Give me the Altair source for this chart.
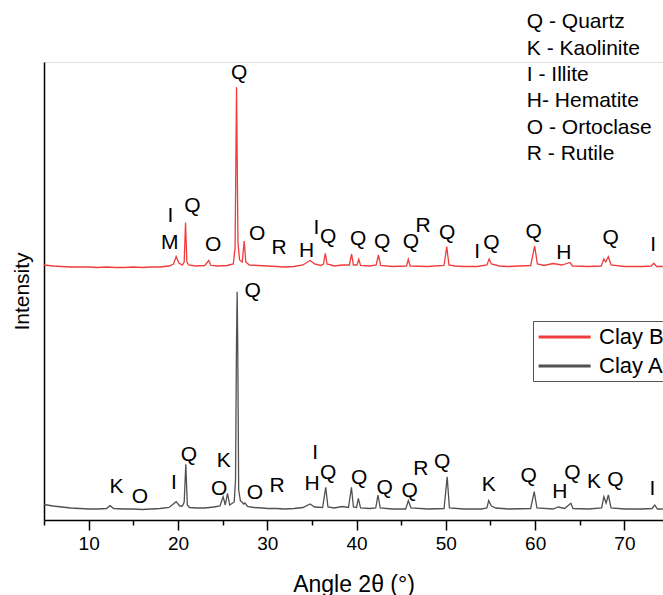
import altair as alt
import pandas as pd

# ---------------- data ----------------
# Clay B (red, upper pattern): angle 2theta (deg) and intensity (a.u.)
clay_b_angle = [5.0, 6.0, 7.0, 8.0, 9.0, 10.0, 11.0, 12.0, 13.0, 14.0, 15.0, 16.0, 17.0, 18.0,
                19.0, 19.5, 19.8, 20.1, 20.5, 20.7, 20.85, 21.0, 21.2, 22.0, 23.0, 23.45, 23.7,
                24.5, 25.5, 26.2, 26.4, 26.5, 26.56, 26.62, 26.72, 26.9, 27.2, 27.42, 27.6, 28.0,
                29.0, 30.0, 31.0, 32.0, 33.0, 34.0, 34.8, 35.3, 36.0, 36.3, 36.5, 36.7, 37.5,
                38.4, 39.2, 39.45, 39.65, 40.05, 40.25, 40.45, 41.5, 42.2, 42.45, 42.7, 44.0,
                45.6, 45.8, 46.0, 48.0, 49.8, 50.1, 50.35, 51.0, 52.0, 53.5, 54.6, 54.85, 55.1,
                56.0, 57.0, 59.5, 59.95, 60.25, 61.0, 62.0, 63.0, 63.9, 64.2, 66.0, 67.4, 67.7,
                67.9, 68.2, 68.5, 70.0, 72.0, 73.0, 73.3, 73.6, 74.3]
clay_b_int = [255.0, 254.0, 253.5, 253.0, 253.0, 253.0, 252.5, 253.0, 252.5, 252.5, 253.0, 252.5,
              253.0, 253.0, 254.0, 256.0, 263.5, 257.0, 255.0, 258.0, 297.5, 258.0, 255.0, 254.0,
              254.5, 259.5, 254.5, 254.0, 254.5, 256.0, 272.0, 370.0, 432.7, 375.0, 278.0, 260.0,
              258.0, 279.0, 258.0, 255.0, 254.5, 254.0, 253.5, 253.0, 253.5, 255.0, 259.5, 256.0,
              254.5, 256.0, 266.7, 256.0, 254.0, 255.0, 255.0, 266.0, 255.0, 255.0, 260.7, 254.5,
              254.0, 255.0, 265.0, 254.5, 253.5, 254.0, 260.7, 254.0, 253.5, 254.5, 273.3, 255.0,
              254.0, 253.5, 253.5, 255.0, 261.0, 256.0, 254.0, 253.5, 254.5, 274.0, 256.0, 254.5,
              256.5, 255.0, 257.5, 254.0, 253.5, 254.0, 261.0, 258.0, 263.3, 255.0, 253.5, 253.5,
              254.0, 256.7, 253.5, 253.5]

# Clay A (dark grey, lower pattern)
clay_a_angle = [5.0, 6.0, 7.0, 8.0, 9.0, 10.0, 11.0, 12.0, 12.4, 12.8, 14.0, 15.0, 16.0, 17.0,
                18.0, 19.0, 19.8, 20.2, 20.5, 20.7, 20.88, 21.05, 21.3, 22.0, 23.0, 24.0, 24.7,
                25.06, 25.3, 25.55, 25.8, 26.3, 26.45, 26.55, 26.63, 26.7, 26.8, 27.0, 27.15,
                27.35, 27.5, 27.8, 28.5, 29.5, 30.0, 31.0, 32.0, 33.0, 34.0, 34.8, 35.3, 36.2,
                36.55, 36.8, 37.5, 38.4, 39.1, 39.43, 39.65, 40.0, 40.2, 40.45, 41.5, 42.15,
                42.4, 42.65, 44.0, 45.5, 45.8, 46.1, 48.0, 49.8, 50.15, 50.4, 52.0, 54.0, 54.6,
                54.8, 55.1, 55.6, 57.0, 59.5, 59.9, 60.2, 62.0, 62.6, 63.3, 64.0, 64.25, 66.0,
                67.45, 67.7, 67.95, 68.2, 68.5, 70.0, 72.0, 73.1, 73.4, 73.7, 74.3]
clay_a_int = [15.5, 14.0, 13.0, 12.0, 11.5, 11.0, 11.0, 11.5, 14.3, 11.5, 11.0, 11.0, 10.5, 11.0,
              11.5, 12.5, 18.3, 14.0, 14.0, 18.0, 55.7, 15.0, 12.5, 12.0, 12.0, 13.0, 14.0, 23.3,
              15.0, 26.7, 15.0, 18.0, 40.0, 170.0, 228.3, 170.0, 30.0, 19.0, 18.3, 16.0, 17.0,
              13.5, 12.5, 12.0, 11.5, 11.5, 11.0, 11.5, 12.5, 16.0, 13.0, 12.5, 32.7, 13.0, 12.0,
              13.5, 12.5, 32.7, 13.0, 12.5, 21.7, 12.0, 11.5, 12.0, 25.0, 12.0, 11.0, 11.0, 19.3,
              12.0, 11.0, 11.5, 43.3, 12.0, 11.0, 11.0, 12.0, 19.3, 14.0, 12.0, 11.0, 11.5, 28.3,
              12.0, 11.0, 13.0, 11.5, 16.7, 11.5, 11.0, 12.0, 23.3, 17.0, 25.0, 12.0, 11.0, 11.0,
              11.5, 15.0, 11.0, 11.0]

# phase letters above Clay B peaks
b_lab_text = ["Q", "I", "M", "Q", "O", "O", "R", "H", "I", "Q", "Q", "Q", "Q", "R", "Q", "I",
              "Q", "Q", "H", "Q", "I"]
b_lab_angle = [26.85, 19.17, 19.09, 21.63, 23.94, 28.86, 31.33, 34.4, 35.52, 36.81, 40.17,
               42.86, 46.08, 47.45, 50.14, 53.5, 55.11, 59.85, 63.21, 68.47, 73.21]
b_lab_int = [446.7, 304.0, 276.7, 314.0, 275.0, 285.7, 271.7, 269.3, 292.3, 283.3, 280.7,
             278.3, 278.3, 294.0, 286.7, 268.3, 276.7, 288.3, 267.3, 281.7, 275.0]

# phase letters above Clay A peaks
a_lab_text = ["Q", "K", "O", "I", "Q", "K", "O", "O", "R", "H", "I", "Q", "Q", "Q", "Q", "R",
              "Q", "K", "Q", "H", "Q", "K", "Q", "I"]
a_lab_angle = [28.38, 13.12, 15.73, 19.54, 21.22, 25.13, 24.61, 28.61, 31.1, 35.02, 35.36,
               36.81, 40.29, 43.16, 45.96, 47.2, 49.58, 54.81, 59.29, 62.76, 64.18, 66.6,
               69.0, 73.14]
a_lab_int = [229.0, 32.7, 23.3, 36.7, 65.0, 59.3, 31.0, 27.3, 34.0, 35.7, 66.7, 46.7, 41.7,
             31.7, 29.3, 50.7, 58.3, 35.0, 44.0, 28.3, 46.7, 38.3, 40.0, 30.7]

# key of phases (top right)
key_text = ["Q - Quartz", "K - Kaolinite", "I - Illite", "H- Hematite", "O - Ortoclase",
            "R - Rutile"]
key_angle = [59.07] * 6
key_int = [498.0, 471.0, 445.0, 419.0, 392.0, 366.0]

series_names = ["Clay B", "Clay A"]
series_colors = ["#f03c3c", "#505050"]

# ---------------- tables ----------------
df_lines = pd.concat([
    pd.DataFrame({"angle": clay_b_angle, "intensity": clay_b_int, "sample": "Clay B"}),
    pd.DataFrame({"angle": clay_a_angle, "intensity": clay_a_int, "sample": "Clay A"}),
], ignore_index=True)

df_labels = pd.concat([
    pd.DataFrame({"angle": b_lab_angle, "intensity": b_lab_int, "label": b_lab_text}),
    pd.DataFrame({"angle": a_lab_angle, "intensity": a_lab_int, "label": a_lab_text}),
], ignore_index=True)

df_key = pd.DataFrame({"angle": key_angle, "intensity": key_int, "label": key_text})

FONT = "Liberation Sans"

xscale = alt.Scale(domain=[5, 74.32], nice=False, zero=False)
yscale = alt.Scale(domain=[0, 458], nice=False, zero=False)

x_axis = alt.Axis(
    title="Angle 2θ (°)",
    values=list(range(5, 75, 5)),
    labelExpr="datum.value % 10 === 0 ? datum.label : ''",
    tickSize={"condition": {"test": "datum.value % 10 === 0", "value": 10}, "value": 5},
    tickColor="black", tickWidth=1.5,
    domainColor="black", domainWidth=1.5,
    labelFont=FONT, labelFontSize=19, labelColor="black", labelPadding=4,
    titleFont=FONT, titleFontSize=23, titleFontWeight="normal", titleColor="black",
    titlePadding=20, grid=False,
)
y_axis = alt.Axis(
    title="Intensity", labels=False, ticks=False, grid=False,
    domainColor="black", domainWidth=1.5,
    titleFont=FONT, titleFontSize=21, titleFontWeight="normal", titleColor="black",
    titlePadding=12,
)

lines = alt.Chart(df_lines).mark_line(strokeWidth=1.3, clip=True).encode(
    x=alt.X("angle:Q", scale=xscale, axis=x_axis),
    y=alt.Y("intensity:Q", scale=yscale, axis=y_axis),
    color=alt.Color(
        "sample:N",
        scale=alt.Scale(domain=series_names, range=series_colors),
        legend=alt.Legend(
            title=None, orient="none", legendX=489, legendY=259,
            symbolType="M-1,0H4", symbolSize=433, symbolStrokeWidth=3,
            labelFont=FONT, labelFontSize=22, labelColor="black", labelOffset=38,
            strokeColor="#555555", padding=4, rowPadding=6,
        ),
    ),
)

letters = alt.Chart(df_labels).mark_text(font=FONT, fontSize=21, color="black").encode(
    x=alt.X("angle:Q", scale=xscale),
    y=alt.Y("intensity:Q", scale=yscale),
    text="label:N",
)

key = alt.Chart(df_key).mark_text(font=FONT, fontSize=21, color="black", align="left").encode(
    x=alt.X("angle:Q", scale=xscale),
    y=alt.Y("intensity:Q", scale=yscale),
    text="label:N",
)

chart = alt.layer(lines, letters, key).properties(
    width=619, height=458,
    autosize=alt.AutoSizeParams(type="none"),
    padding={"left": 44, "top": 62, "right": 0, "bottom": 75},
).configure_view(stroke=None).configure(background="white")

chart.save("out.html", embed_options={"renderer": "svg", "actions": False})
